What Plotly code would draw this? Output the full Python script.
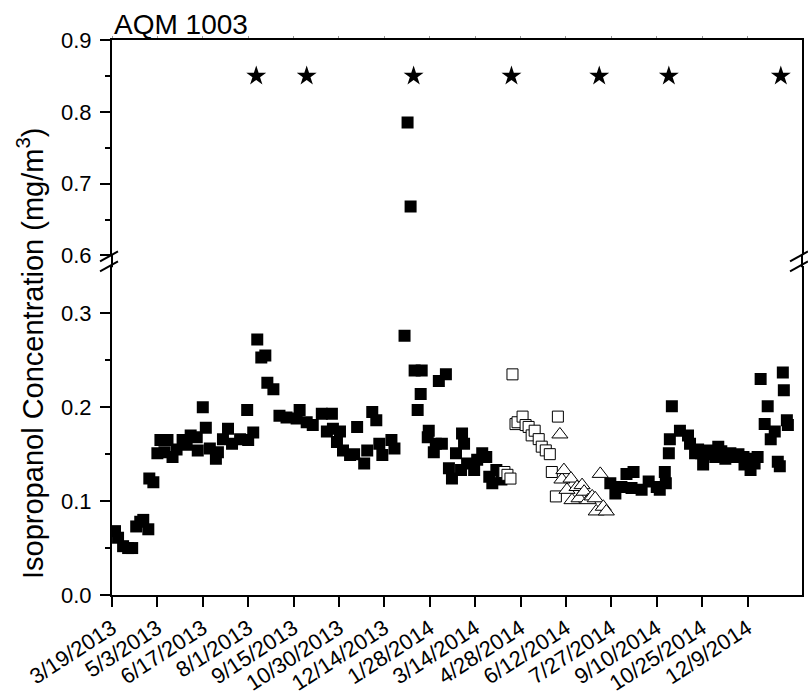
import pandas as pd
import plotly.graph_objects as go

START = pd.Timestamp("2013-03-19")

# days since 3/19/2013 and concentrations (mg/m3)
filled_days = [3, 6, 11, 16, 20, 24, 28, 31, 36, 37, 41, 45, 48, 52, 55, 60, 64, 70, 74, 78,
               84, 85, 90, 93, 97, 103, 105, 110, 115, 119, 127, 134, 135, 140, 144, 148, 152, 154, 160, 166,
               173, 183, 186, 193, 199, 208, 213, 218, 219, 223, 226, 229, 236, 240, 243, 250, 253, 258, 262, 265,
               268, 277, 280, 290, 300, 303, 306, 307, 313, 314, 319, 321, 324, 327, 331, 334, 337, 341, 346, 347,
               349, 352, 359, 362, 367, 371, 374, 377, 381, 386,
               494, 499, 505, 510, 515, 517, 525, 532, 540, 543, 548, 549, 552, 553, 555, 563, 571, 573, 578, 581,
               584, 586, 591, 594, 598, 601, 604, 608, 613, 618, 621, 626, 627, 630, 633, 637, 640, 643, 647, 650,
               653, 657, 660, 662, 665, 666, 669, 670]
filled_vals = [0.068, 0.061, 0.052, 0.050, 0.050, 0.073, 0.078, 0.080, 0.070, 0.124, 0.120, 0.151, 0.165, 0.152, 0.165, 0.147, 0.155, 0.165, 0.160, 0.170,
               0.168, 0.154, 0.200, 0.178, 0.156, 0.145, 0.152, 0.166, 0.177, 0.161, 0.166, 0.197, 0.165, 0.173, 0.272, 0.253, 0.255, 0.226, 0.219, 0.191,
               0.189, 0.188, 0.197, 0.184, 0.181, 0.193, 0.174, 0.193, 0.177, 0.163, 0.174, 0.154, 0.149, 0.150, 0.179, 0.140, 0.154, 0.195, 0.186, 0.161,
               0.149, 0.165, 0.156, 0.276, 0.239, 0.197, 0.214, 0.239, 0.168, 0.175, 0.152, 0.161, 0.228, 0.161, 0.235, 0.135, 0.124, 0.151, 0.133, 0.172,
               0.161, 0.140, 0.133, 0.144, 0.151, 0.147, 0.126, 0.119, 0.133, 0.123,
               0.119, 0.108, 0.115, 0.129, 0.114, 0.131, 0.112, 0.121, 0.115, 0.112, 0.131, 0.119, 0.151, 0.166, 0.201, 0.175, 0.170, 0.161, 0.151, 0.155,
               0.151, 0.139, 0.154, 0.150, 0.147, 0.158, 0.153, 0.145, 0.151, 0.147, 0.150, 0.147, 0.139, 0.145, 0.133, 0.140, 0.147, 0.230, 0.182, 0.201,
               0.166, 0.174, 0.142, 0.137, 0.237, 0.218, 0.186, 0.181]

upper_days = [293, 296]
upper_vals = [0.785, 0.668]

open_sq_days = [389, 392, 395, 397, 400, 402, 407, 410, 413, 416, 419, 423, 426, 430, 434, 436, 440, 442]
open_sq_vals = [0.131, 0.128, 0.124, 0.235, 0.182, 0.184, 0.190, 0.181, 0.179, 0.170, 0.175, 0.166, 0.158, 0.154, 0.150, 0.131, 0.105, 0.190]

tri_days = [444, 446, 448, 451, 455, 456, 461, 463, 466, 468, 472, 476, 479, 480, 484, 487, 490]
tri_vals = [0.171, 0.123, 0.133, 0.112, 0.124, 0.101, 0.115, 0.103, 0.117, 0.110, 0.101, 0.105, 0.103, 0.089, 0.129, 0.094, 0.089]

star_dates = ["2013-08-09", "2013-09-28", "2014-01-12", "2014-04-19", "2014-07-15", "2014-09-22", "2015-01-11"]
star_vals = [0.85] * 7

tick_labels = ["3/19/2013", "5/3/2013", "6/17/2013", "8/1/2013", "9/15/2013", "10/30/2013", "12/14/2013",
               "1/28/2014", "3/14/2014", "4/28/2014", "6/12/2014", "7/27/2014", "9/10/2014", "10/25/2014", "12/9/2014"]


def to_dates(days):
    return [START + pd.Timedelta(days=d) for d in days]


tick_vals = [pd.to_datetime(t, format="%m/%d/%Y") for t in tick_labels]
xr = [START, pd.Timestamp("2015-02-01")]

FONT = "Liberation Sans, Arial, sans-serif"

fig = go.Figure()
fig.add_trace(go.Scatter(x=to_dates(filled_days), y=filled_vals, mode="markers", xaxis="x", yaxis="y",
                         marker=dict(symbol="square", size=12, color="black", line=dict(width=0))))
fig.add_trace(go.Scatter(x=to_dates(open_sq_days), y=open_sq_vals, mode="markers", xaxis="x", yaxis="y",
                         marker=dict(symbol="square", size=11, color="white", line=dict(width=1, color="black"))))
fig.add_trace(go.Scatter(x=to_dates(tri_days), y=tri_vals, mode="markers", xaxis="x", yaxis="y",
                         marker=dict(symbol="triangle-up", size=14, color="white", line=dict(width=1, color="black"))))
fig.add_trace(go.Scatter(x=to_dates(upper_days), y=upper_vals, mode="markers", xaxis="x2", yaxis="y2",
                         marker=dict(symbol="square", size=12, color="black", line=dict(width=0))))
fig.add_trace(go.Scatter(x=pd.to_datetime(star_dates), y=star_vals, mode="markers", xaxis="x2", yaxis="y2",
                         marker=dict(symbol="star", size=15, color="black", line=dict(width=0))))

H_TOP, H_BOT = 40, 599
H = H_BOT - H_TOP
W = 692
low_top = (H_BOT - 268) / H
up_bot = (H_BOT - 257) / H

TICKFONT = dict(size=22, family=FONT, color="black")

fig.update_layout(
    width=808, height=700,
    margin=dict(l=112, r=4, t=H_TOP, b=700 - H_BOT),
    paper_bgcolor="white", plot_bgcolor="white",
    showlegend=False,
    font=dict(family=FONT, size=22, color="black"),
    xaxis=dict(type="date", range=xr, tickvals=tick_vals, ticktext=tick_labels, tickangle=-33,
               showline=True, linecolor="black", linewidth=2, ticks="outside", ticklen=10, tickwidth=2,
               tickcolor="black", showgrid=False, zeroline=False, anchor="y",
               tickfont=TICKFONT),
    xaxis2=dict(type="date", range=xr, overlaying="x", anchor="y2", side="top", tickvals=tick_vals,
                showticklabels=False, showline=True, linecolor="black", linewidth=2,
                ticks="outside", ticklen=2, tickwidth=1, tickcolor="#999999", showgrid=False, zeroline=False),
    yaxis=dict(domain=[0, low_top], range=[0, 0.35], tickvals=[0.0, 0.1, 0.2, 0.3],
               ticktext=["0.0", "0.1", "0.2", "0.3"], tickfont=TICKFONT, ticklabelstandoff=4,
               minor=dict(tickvals=[0.05, 0.15, 0.25], ticks="outside", ticklen=5, tickwidth=2, tickcolor="black"),
               showline=True, linecolor="black", linewidth=2, mirror=True, ticks="outside", ticklen=10,
               tickwidth=2, tickcolor="black", showgrid=False, zeroline=False),
    yaxis2=dict(domain=[up_bot, 1], range=[0.6, 0.9], tickvals=[0.6, 0.7, 0.8, 0.9],
                ticktext=["0.6", "0.7", "0.8", "0.9"], tickfont=TICKFONT, ticklabelstandoff=4,
                minor=dict(tickvals=[0.65, 0.75, 0.85], ticks="outside", ticklen=5, tickwidth=2, tickcolor="black"),
                showline=True, linecolor="black", linewidth=2, mirror=True, ticks="outside", ticklen=10,
                tickwidth=2, tickcolor="black", showgrid=False, zeroline=False, anchor="x"),
)

# continuous axis line through the break gap (left and right)
for xpx in (112, 804):
    fx = (xpx - 112) / W
    fig.add_shape(type="line", xref="paper", yref="paper", x0=fx, x1=fx,
                  y0=(H_BOT - 269) / H, y1=(H_BOT - 256) / H, line=dict(color="black", width=2))
    # axis break marks
    for dy in (0, 10):
        y0 = (H_BOT - (258 + dy + 5)) / H
        y1 = (H_BOT - (258 + dy - 5)) / H
        fig.add_shape(type="line", xref="paper", yref="paper",
                      x0=fx - 12 / W, x1=fx + 6 / W, y0=y0, y1=y1,
                      line=dict(color="black", width=2))

fig.add_annotation(text="AQM 1003", xref="paper", yref="paper", x=0, y=1, xanchor="left", yanchor="bottom",
                   yshift=-2, showarrow=False, font=dict(size=28, family=FONT))
fig.add_annotation(text="Isopropanol Concentration (mg/m<sup>3</sup>)", xref="paper", yref="paper",
                   x=(30 - 112) / W, y=(H_BOT - 356) / H, xanchor="center", yanchor="middle",
                   textangle=-90, showarrow=False, font=dict(size=29, family=FONT))

fig.write_html("out.html")
